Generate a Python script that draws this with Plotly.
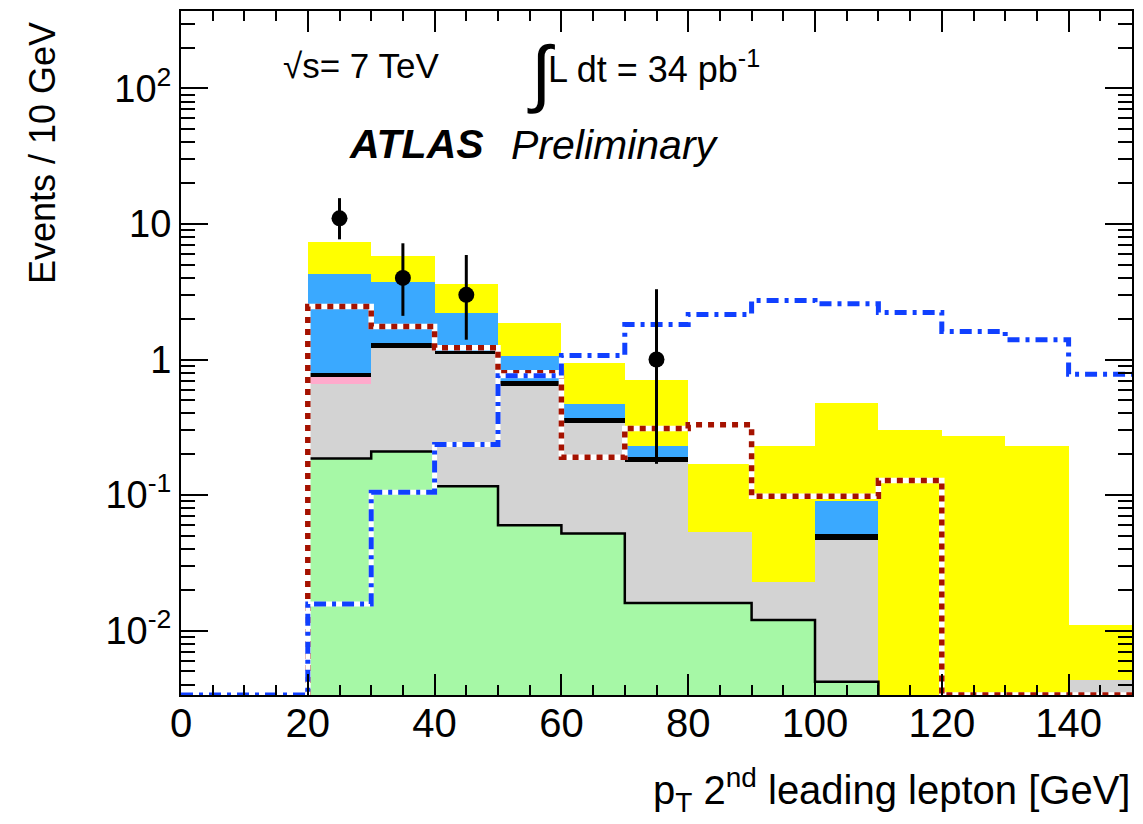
import numpy as np
import plotly.graph_objects as go

# ---------------- data ----------------
bin_edges = list(range(0, 160, 10))          # 0..150, 15 bins of 10 GeV
# stacked background components (per-bin contributions)
bkg_green  = [0, 0, 0.186, 0.21, 0.116, 0.060, 0.052, 0.016, 0.016, 0.012, 0.0042, 0, 0, 0, 0]
bkg_gray   = [0, 0, 0.479, 1.01, 0.974, 0.58, 0.288, 0.158, 0.037, 0.0107, 0.0428, 0, 0, 0, 0.0043]
bkg_pink   = [0, 0, 0.075, 0, 0, 0, 0, 0, 0, 0, 0, 0, 0, 0, 0]
bkg_black  = [0, 0, 0.05, 0.11, 0.06, 0.06, 0.03, 0.016, 0, 0, 0.005, 0, 0, 0, 0]
bkg_blue   = [0, 0, 3.51, 2.37, 1.05, 0.37, 0.10, 0.04, 0, 0, 0.039, 0, 0, 0, 0]
bkg_yellow = [0, 0, 3.1, 2.1, 1.4, 0.80, 0.48, 0.48, 0.117, 0.207, 0.389, 0.30, 0.275, 0.23, 0.0067]
# overlaid signal-like histograms
sig_red_dotted  = [0, 0, 2.46, 1.75, 1.22, 0.80, 0.19, 0.31, 0.33, 0.098, 0.098, 0.128, 0, 0, 0]
sig_blue_dashdot = [0, 0, 0.0157, 0.105, 0.236, 0.76, 1.07, 1.81, 2.15, 2.72, 2.58, 2.22, 1.61, 1.40, 0.78]
# data points
data_x = [25, 35, 45, 75]
data_y = [11, 4, 3, 1]
data_err_hi = [4.5, 3.2, 2.9, 2.3]
data_err_lo = [3.3, 1.9, 1.6, 0.83]
# axis ticks
x_ticks = [0, 20, 40, 60, 80, 100, 120, 140]
y_ticks = [0.01, 0.1, 1, 10, 100]
y_ticktext = ["10<sup>-2</sup>", "10<sup>-1</sup>", "1", "10", "10<sup>2</sup>"]

# ---------------- figure ----------------
Y_RANGE = [-2.475, 2.571]
floor = 10 ** Y_RANGE[0]
edges = np.array(bin_edges, dtype=float)
centers = 0.5 * (edges[:-1] + edges[1:])
FONT = "Liberation Sans"

fig = go.Figure()

components = [bkg_green, bkg_gray, bkg_pink, bkg_black, bkg_blue, bkg_yellow]
colors = ["#A6F8A6", "#D3D3D3", "#FFAACC", "#000000", "#3AA9FF", "#FFFF00"]
cum = np.cumsum(np.array(components, dtype=float), axis=0)
# draw from the top of the stack down so that each cumulative bar overlays the previous
for level, col in zip(reversed(range(len(components))), reversed(colors)):
    vals = cum[level]
    yv = [v if v > 0 else None for v in vals]
    fig.add_trace(go.Bar(x=centers, y=yv, width=10, marker=dict(color=col, line=dict(width=0)),
                         showlegend=False, hoverinfo="skip"))

def step_xy(values, start_idx, stop_idx):
    vals = [max(v, floor) for v in values[start_idx:stop_idx]]
    xs = [edges[start_idx]] + list(edges[start_idx:stop_idx + 1])
    ys = [floor] + vals + [vals[-1]]
    return xs, ys

# green outline (black step line)
gx, gy = step_xy(bkg_green, 2, 11)
gx = gx + [gx[-1]]
gy = gy + [floor]
fig.add_trace(go.Scatter(x=gx, y=gy, mode="lines", line=dict(color="black", width=2.5, shape="hv"),
                         showlegend=False, hoverinfo="skip"))

# red dotted histogram
rx, ry = step_xy(sig_red_dotted, 2, 15)
fig.add_trace(go.Scatter(x=rx, y=ry, mode="lines", line=dict(color="white", width=5.5, shape="hv"),
                         showlegend=False, hoverinfo="skip"))
fig.add_trace(go.Scatter(x=rx, y=ry, mode="lines",
                         line=dict(color="#A51200", width=5.5, shape="hv", dash="6px,6px"),
                         showlegend=False, hoverinfo="skip"))

# blue dash-dot histogram
bx, by = step_xy(sig_blue_dashdot, 0, 15)
fig.add_trace(go.Scatter(x=bx, y=by, mode="lines", line=dict(color="white", width=5, shape="hv"),
                         showlegend=False, hoverinfo="skip"))
fig.add_trace(go.Scatter(x=bx, y=by, mode="lines",
                         line=dict(color="#1040FF", width=5, shape="hv", dash="12px,6px,4px,6px"),
                         showlegend=False, hoverinfo="skip"))

# data
fig.add_trace(go.Scatter(x=data_x, y=data_y, mode="markers",
                         marker=dict(color="black", size=16, symbol="circle"),
                         error_y=dict(type="data", symmetric=False, array=data_err_hi,
                                      arrayminus=data_err_lo, color="black", thickness=3, width=0),
                         showlegend=False, hoverinfo="skip"))

axis_common = dict(showline=True, linecolor="black", linewidth=2, mirror="ticks", ticks="inside",
                   tickcolor="black", tickwidth=1.5, showgrid=False, zeroline=False)

minor_y = [k * 10 ** e for e in range(-3, 3) for k in range(2, 10)
           if Y_RANGE[0] <= np.log10(k * 10 ** e) <= Y_RANGE[1]]

fig.update_layout(
    width=1143, height=824,
    margin=dict(l=181, r=9, t=10, b=129),
    paper_bgcolor="white", plot_bgcolor="white",
    barmode="overlay", bargap=0,
    font=dict(family=FONT, color="black"),
    xaxis=dict(range=[0, 150], tickmode="array", tickvals=x_ticks, ticklen=21,
               tickfont=dict(family=FONT, size=40, color="black"), ticklabelstandoff=-8,
               minor=dict(dtick=5, tick0=0, ticks="inside", ticklen=10, tickwidth=1.5, tickcolor="black"),
               **axis_common),
    yaxis=dict(type="log", range=Y_RANGE, tickmode="array", tickvals=y_ticks, ticktext=y_ticktext,
               ticklen=27, tickfont=dict(family=FONT, size=38, color="black"),
               minor=dict(tickmode="array", tickvals=minor_y, ticks="inside", ticklen=14,
                          tickwidth=1.5, tickcolor="black"),
               **axis_common),
)

def px_to_paper(px, py):
    return (px - 181) / 953.0, (695 - py) / 685.0

ann = []
x, y = px_to_paper(43, 152)
ann.append(dict(text="Events / 10 GeV", x=x, y=y, textangle=-90, xanchor="center", yanchor="middle",
                font=dict(size=36)))
x, y = px_to_paper(1134, 790)
ann.append(dict(text="p<sub>T</sub> 2<sup>nd</sup> leading lepton [GeV]", x=1.0, y=y,
                xanchor="right", yanchor="middle", font=dict(size=40)))
x, y = px_to_paper(281, 65)
ann.append(dict(text="√s= 7 TeV", x=x, y=y, xanchor="left", yanchor="middle", font=dict(size=35)))
x, y = px_to_paper(526, 72)
ann.append(dict(text="∫", x=x, y=y, xanchor="left", yanchor="middle", font=dict(size=74)))
x, y = px_to_paper(547, 66)
ann.append(dict(text="L dt = 34 pb<sup>-1</sup>", x=x, y=y, xanchor="left", yanchor="middle",
                font=dict(size=36)))
x, y = px_to_paper(347, 143)
ann.append(dict(text="<b><i>ATLAS</i></b>", x=x, y=y, xanchor="left", yanchor="middle",
                font=dict(size=41)))
x, y = px_to_paper(510, 144)
ann.append(dict(text="<i>Preliminary</i>", x=x, y=y, xanchor="left", yanchor="middle",
                font=dict(size=41)))
for a in ann:
    a.update(xref="paper", yref="paper", showarrow=False)
    a["font"].update(family=FONT, color="black")
fig.update_layout(annotations=ann)

fig.write_html("out.html")
